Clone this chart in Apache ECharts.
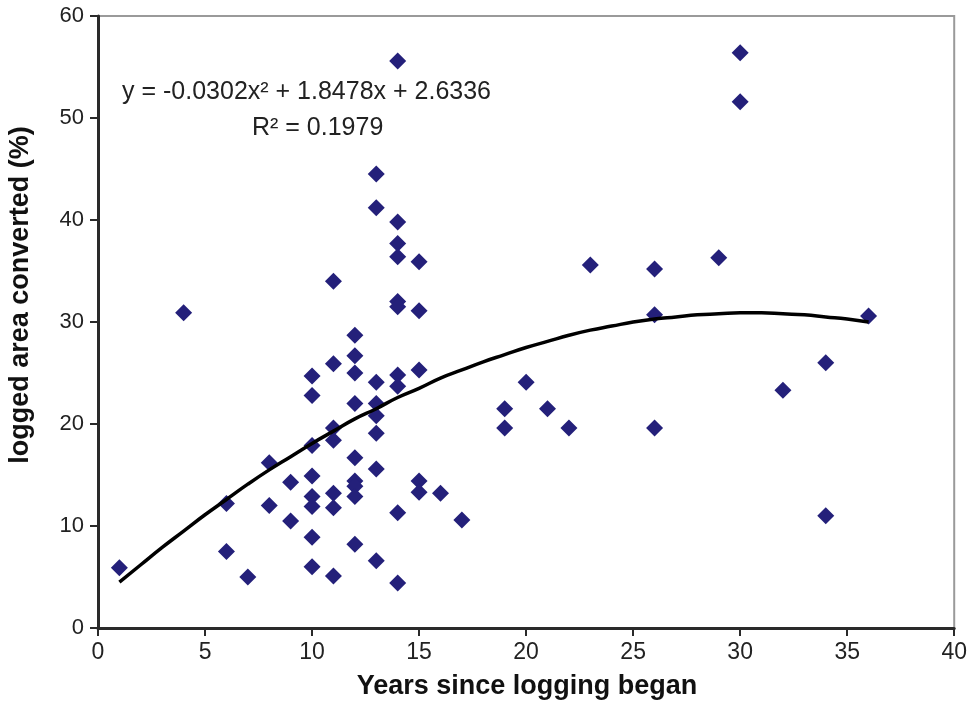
<!DOCTYPE html>
<html>
<head>
<meta charset="utf-8">
<script src="https://cdn.jsdelivr.net/npm/echarts@6/dist/echarts.min.js"></script>
<style>
html,body{margin:0;padding:0;background:#fff;}
#chart{width:970px;height:715px;}
</style>
</head>
<body>
<div id="chart"></div>
<script>
// Scatter observations: [years since logging began, logged area converted (%)]
var scatterPoints = [
  [1,5.9],[4,30.9],[6,12.2],[6,7.5],[7,5.0],[8,16.2],[8,12.0],[9,14.3],[9,10.5],
  [10,24.7],[10,22.8],[10,17.9],[10,14.9],[10,12.9],[10,11.9],[10,8.9],[10,6.0],
  [11,34.0],[11,25.9],[11,19.6],[11,18.4],[11,13.2],[11,11.8],[11,5.1],
  [12,28.7],[12,26.7],[12,25.0],[12,22.0],[12,16.7],[12,14.4],[12,13.9],[12,12.9],[12,8.2],
  [13,44.5],[13,41.2],[13,24.1],[13,22.0],[13,20.8],[13,19.1],[13,15.6],[13,6.6],
  [14,55.6],[14,39.8],[14,37.7],[14,36.4],[14,32.0],[14,31.5],[14,24.8],[14,23.7],[14,11.3],[14,4.4],
  [15,35.9],[15,31.1],[15,25.3],[15,14.4],[15,13.3],
  [16,13.2],[17,10.6],[19,21.5],[19,19.6],[20,24.1],[21,21.5],[22,19.6],[23,35.6],
  [26,35.2],[26,30.7],[26,19.6],[29,36.3],[30,56.4],[30,51.6],[32,23.3],[34,26.0],[34,11.0],[36,30.6]
];

// Trend line at each year
var trendX = [1,2,3,4,5,6,7,8,9,10,11,12,13,14,15,16,17,18,19,20,21,22,23,24,25,26,27,28,29,30,31,32,33,34,35,36];
var trendY = [4.5,6.2,7.9,9.5,11.1,12.6,14.1,15.5,16.8,18.1,19.3,20.5,21.5,22.6,23.5,24.5,25.3,26.1,26.8,27.5,28.1,28.7,29.2,29.6,30.0,30.3,30.5,30.7,30.8,30.9,30.9,30.8,30.7,30.5,30.3,30.0];

var xTicks = [0,5,10,15,20,25,30,35,40];
var yTicks = [0,10,20,30,40,50,60];

var equationText = 'y = -0.0302x\u00B2 + 1.8478x + 2.6336';
var r2Text = 'R\u00B2 = 0.1979';
var xTitle = 'Years since logging began';
var yTitle = 'logged area converted (%)';

var trendData = trendX.map(function(x, i){ return [x, trendY[i]]; });

var chart = echarts.init(document.getElementById('chart'), null, {renderer:'canvas'});
var font = '"Liberation Sans", Arial, sans-serif';
chart.setOption({
  backgroundColor: '#ffffff',
  animation: false,
  grid: {
    left: 98, right: 13, top: 16, bottom: 87,
    show: true, borderColor: '#9a9a9a', borderWidth: 2, backgroundColor: '#ffffff'
  },
  xAxis: {
    type: 'value', min: xTicks[0], max: xTicks[xTicks.length-1], interval: 5,
    axisLine: {onZero: false, lineStyle: {color: '#2a2a2a', width: 3}},
    axisTick: {show: true, inside: false, length: 8, lineStyle: {color: '#2a2a2a', width: 2}},
    axisLabel: {color: '#222', fontFamily: font, fontSize: 23, margin: 13},
    splitLine: {show: false}
  },
  yAxis: {
    type: 'value', min: yTicks[0], max: yTicks[yTicks.length-1], interval: 10,
    axisLine: {show: true, onZero: false, lineStyle: {color: '#2a2a2a', width: 3}},
    axisTick: {show: true, inside: false, length: 8, lineStyle: {color: '#2a2a2a', width: 2}},
    axisLabel: {color: '#222', fontFamily: font, fontSize: 22, margin: 14},
    splitLine: {show: false}
  },
  graphic: [
    {type: 'text', left: 122, top: 80, z: 100,
      style: {text: equationText, fill: '#222', font: '25px ' + font}},
    {type: 'text', left: 252, top: 116, z: 100,
      style: {text: r2Text, fill: '#222', font: '25px ' + font}},
    {type: 'text', x: 527, y: 687, z: 100,
      style: {text: xTitle, fill: '#111', font: 'bold 27px ' + font, align: 'center', verticalAlign: 'middle'}},
    {type: 'text', x: 21, y: 295, rotation: Math.PI/2, z: 100,
      style: {text: yTitle, fill: '#111', font: 'bold 27px ' + font, align: 'center', verticalAlign: 'middle'}}
  ],
  series: [
    {
      type: 'scatter', data: scatterPoints, symbol: 'diamond', symbolSize: [17, 17],
      itemStyle: {color: '#24207a', opacity: 1}, z: 3
    },
    {
      type: 'line', data: trendData, smooth: true, showSymbol: false,
      lineStyle: {color: '#000', width: 3.5}, z: 4, silent: true
    }
  ]
});
</script>
</body>
</html>
